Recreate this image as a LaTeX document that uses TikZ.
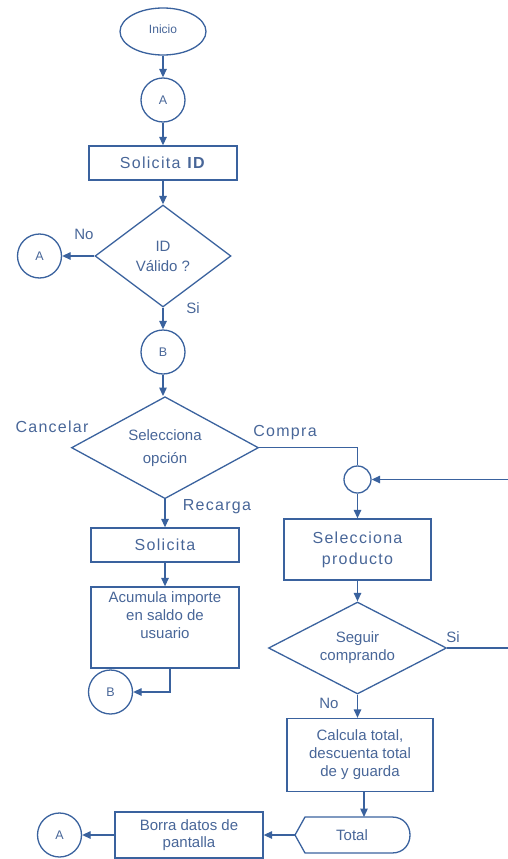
\documentclass[tikz,border=0pt]{standalone}
\usepackage{fontspec}
\setmainfont{Liberation Sans}
\newfontfamily\spacedfont[LetterSpace=8]{Liberation Sans}
\usetikzlibrary{shapes.geometric,arrows.meta}
\definecolor{ln}{RGB}{58,98,158}
\definecolor{tx}{RGB}{72,102,152}
\begin{document}
\begin{tikzpicture}[x=1pt,y=-1pt,
  ln/.style={draw=ln, line width=1.3pt},
  box/.style={ln, rectangle, inner sep=0pt, text=tx, align=center, font=\fontsize{15}{18}\selectfont},
  bigbox/.style={box, font=\spacedfont\fontsize{16}{21}\selectfont},
  conn/.style={ln, circle, inner sep=0pt, minimum size=44pt, text=tx, font=\fontsize{12.5}{14}\selectfont},
  dec/.style={ln, diamond, inner sep=0pt, text=tx, align=center},
  arr/.style={ln, -{Triangle[length=8.5pt,width=7.5pt]}},
  lbl/.style={inner sep=0pt, text=tx, font=\fontsize{15}{18}\selectfont},
  biglbl/.style={inner sep=0pt, text=tx, font=\spacedfont\fontsize{16}{20}\selectfont}]
\useasboundingbox (0,0) rectangle (508,859);
\clip (0,0) rectangle (508,859);

% main column
\node[ln, ellipse, minimum width=86pt, minimum height=47pt, inner sep=0pt, text=tx, font=\fontsize{12}{14}\selectfont] (ini) at (163,31.5) {\raisebox{4pt}{Inicio}};
\node[conn] (a1) at (163,100) {A};
\node[bigbox, minimum width=148pt, minimum height=34pt] (sid) at (163,163) {Solicita \textbf{ID}};
\node[dec, shape aspect=1.33, minimum width=136pt, minimum height=102pt, font=\fontsize{15}{20}\selectfont] (idv) at (163,256) {ID\\Válido ?};
\node[conn] (a2) at (39.5,256) {A};
\node[conn] (b1) at (163,352) {B};
\node[dec, shape aspect=1.8, minimum width=187pt, minimum height=102pt, font=\fontsize{15}{23}\selectfont] (opt) at (165,447.7) {Selecciona\\opción};

% left branch
\node[bigbox, minimum width=148pt, minimum height=34pt] (sol) at (165,545) {Solicita};
\node[box, minimum width=148pt, minimum height=81pt] (acum) at (165,627.5) {};
\node[lbl, anchor=north, align=center] (acumt) at (165,591) {Acumula importe\\en saldo de\\usuario};
\node[conn] (b2) at (110.5,692) {B};

% right branch
\node[ln, circle, minimum size=27pt, inner sep=0pt] (jn) at (357.5,479.5) {};
\node[bigbox, minimum width=147pt, minimum height=61pt] (selp) at (357.5,549.5) {Selecciona\\producto};
\node[dec, shape aspect=1.9, minimum width=178pt, minimum height=92pt, font=\fontsize{15}{18}\selectfont] (seg) at (357.5,648) {Seguir\\comprando};
\node[box, minimum width=146pt, minimum height=73pt] (calc) at (360,755) {Calcula total,\\descuenta total\\de y guarda};

% Total display shape
\coordinate (totL) at (295,835);
\coordinate (totT) at (364,817);
\draw[ln] (totL) -- (305,817) -- (392,817) .. controls (416,817) and (416,853) .. (392,853) -- (305,853) -- cycle;
\node[lbl] (tot) at (352,835) {Total};

\node[box, minimum width=148pt, minimum height=46pt, font=\fontsize{15}{17}\selectfont] (borra) at (189,835) {Borra datos de\\pantalla};
\node[conn] (a3) at (59.5,835) {A};

% labels
\node[lbl] (lno1) at (84,234) {No};
\node[lbl] (lsi1) at (193,308) {Si};
\node[biglbl] (lcan) at (52,427) {Cancelar};
\node[biglbl] (lcom) at (285,433) {Compra};
\node[biglbl] (lrec) at (217,507) {Recarga};
\node[lbl] (lsi2) at (453,637) {Si};
\node[lbl] (lno2) at (329,703) {No};

% connectors
\draw[arr] (ini) -- (a1);
\draw[arr] (a1) -- (sid);
\draw[arr] (sid) -- (idv);
\draw[arr] (idv.west) -- (a2.east);
\draw[arr] (idv.south) -- (b1.north);
\draw[arr] (b1.south) -- (b1.south |- opt.north);
\draw[arr] (opt.south) -- (sol.north);
\draw[arr] (sol) -- (acum);
\draw[arr] ([xshift=5pt]acum.south) |- (b2.east);
\draw[ln] (opt.east) -| (jn.north);
\draw[arr] (jn) -- (selp);
\draw[arr] (selp) -- (seg);
\draw[arr] (seg.east) -- ++(80,0) |- (jn.east);
\draw[arr] (seg.south) -- (seg.south |- calc.north);
\draw[arr] (calc.south -| totT) -- (totT);
\draw[arr] (totL) -- (borra.east);
\draw[arr] (borra.west) -- (a3.east);
\end{tikzpicture}
\end{document}
